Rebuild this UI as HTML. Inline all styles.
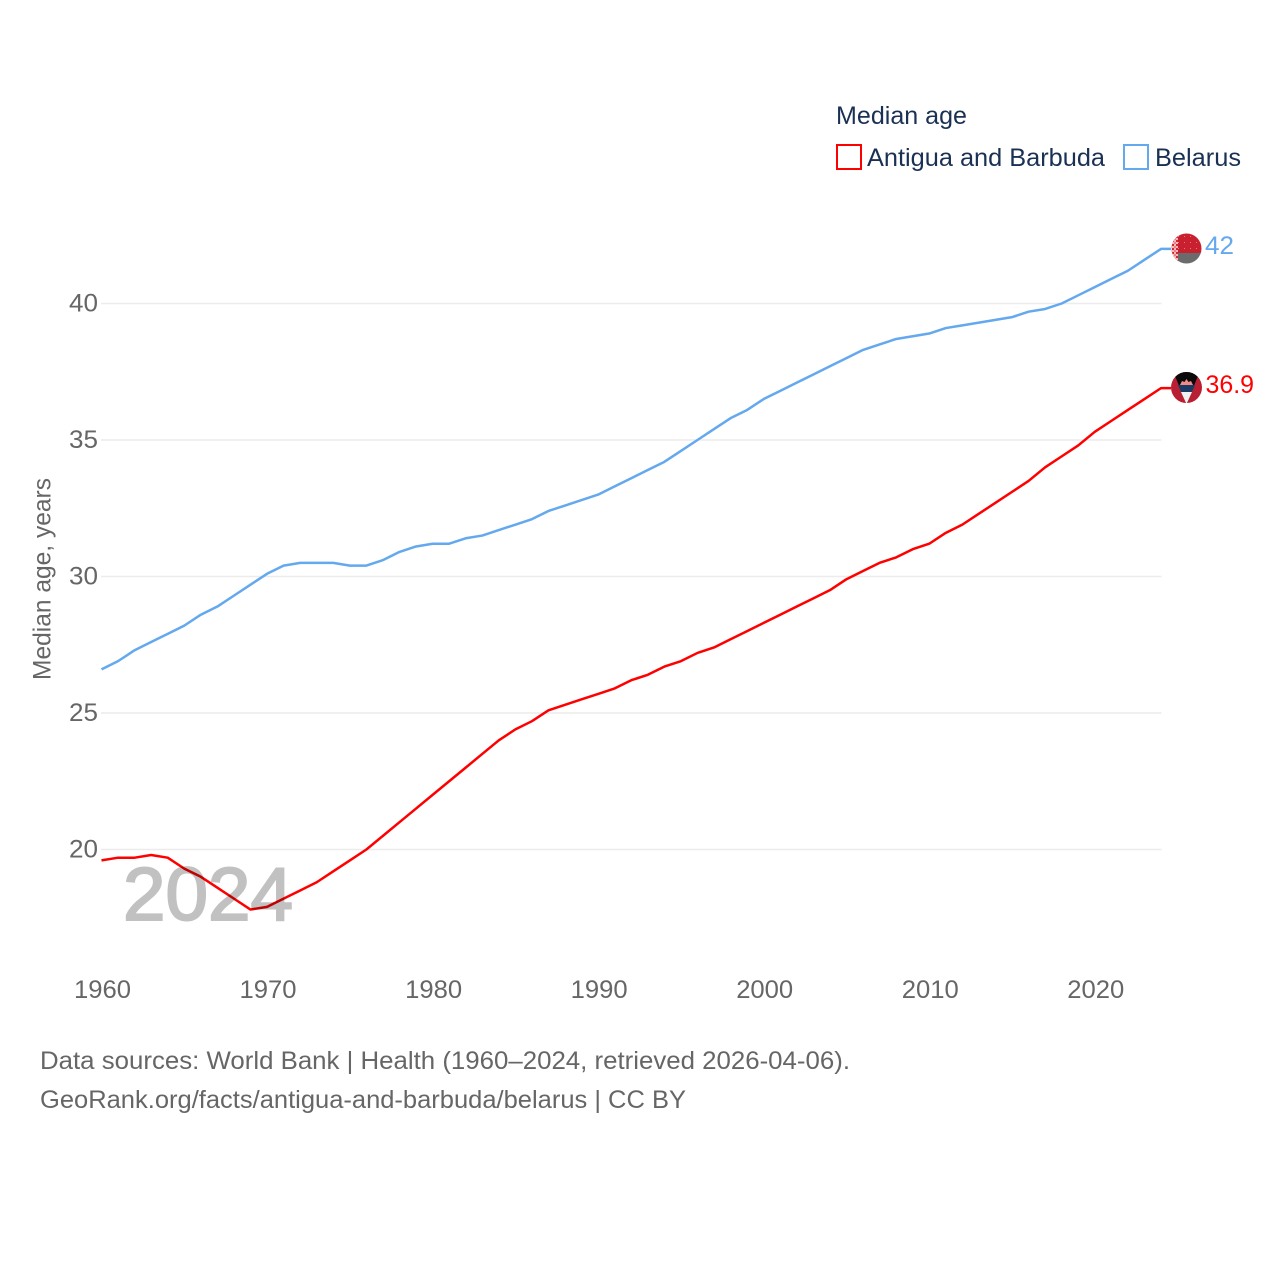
<!DOCTYPE html>
<html lang="en">
<head>
<meta charset="utf-8">
<title>Median age: Antigua and Barbuda vs Belarus</title>
<style>
html,body{margin:0;padding:0;background:#fff;width:1280px;height:1280px;overflow:hidden}
svg{display:block}
text{font-family:"Liberation Sans",sans-serif}
</style>
</head>
<body>
<svg id="chart" xmlns="http://www.w3.org/2000/svg" width="1280" height="1280" viewBox="0 0 1280 1280">
  <defs>
    <clipPath id="clip-by"><circle cx="1186.5" cy="248.5" r="15"/></clipPath>
    <clipPath id="clip-ag"><circle cx="1186.5" cy="387.5" r="15.5"/></clipPath>
    <pattern id="by-orn" width="4" height="4" patternUnits="userSpaceOnUse"><rect width="4" height="4" fill="#f6b6ba"/><rect width="2" height="2" fill="#d22730"/><rect x="2" y="2" width="2" height="2" fill="#e8808a"/></pattern>
    <pattern id="by-dots" width="6" height="6" patternUnits="userSpaceOnUse"><rect width="6" height="6" fill="#c8202f"/><rect x="2" y="2" width="1" height="1" fill="#e77"/></pattern>
  </defs>
  <g id="grid"></g>
  <g id="yticks"></g>
  <g id="xticks"></g>
  <text transform="translate(50.5,680) rotate(-90)" font-size="25" fill="#666" textLength="202" lengthAdjust="spacingAndGlyphs">Median age, years</text>
  <g id="series"></g>
  <text x="123" y="920" font-size="75" fill="#000" stroke="#000" stroke-width="2" opacity="0.24" textLength="170" lengthAdjust="spacingAndGlyphs">2024</text>

  <g>
    <text x="836" y="124" font-size="25" fill="#1a3154" textLength="131" lengthAdjust="spacingAndGlyphs">Median age</text>
    <g>
      <rect x="837" y="145" width="24" height="24" fill="#fff" stroke="#ff0000" stroke-width="2"/>
      <text x="867" y="166" font-size="25" fill="#1a3154" textLength="238" lengthAdjust="spacingAndGlyphs">Antigua and Barbuda</text>
    </g>
    <g>
      <rect x="1124" y="145" width="24" height="24" fill="#fff" stroke="#64a8ee" stroke-width="2"/>
      <text x="1155" y="166" font-size="25" fill="#1a3154" textLength="86" lengthAdjust="spacingAndGlyphs">Belarus</text>
    </g>
  </g>

  <g clip-path="url(#clip-by)">
    <rect x="1171" y="233" width="31" height="20" fill="url(#by-dots)"/>
    <rect x="1171" y="253" width="31" height="12" fill="#6b6b6b"/>
    <rect x="1171" y="233" width="7" height="32" fill="url(#by-orn)"/>
  </g>
  <g clip-path="url(#clip-ag)">
    <rect x="1171" y="372" width="31" height="32" fill="#b91f33"/>
    <polygon points="1173,371 1200,371 1186.500,404" fill="#0a0a0a"/>
    <polygon points="1178,385 1195,385 1192,392 1181,392" fill="#1b3a63"/>
    <polygon points="1181,392 1192,392 1186.500,404" fill="#f1f1f1"/>
    <polygon points="1180,385 1182,381 1184.500,382 1186.500,379 1188.500,382 1191,381 1193,385" fill="#f08a8a"/>
  </g>
  <text id="label-by" x="1205" y="254" font-size="25" fill="#64a8ee" textLength="29" lengthAdjust="spacingAndGlyphs"></text>
  <text id="label-ag" x="1205.500" y="393" font-size="25" fill="#ff0000" textLength="48.500" lengthAdjust="spacingAndGlyphs"></text>

  <g>
    <text x="40" y="1069" font-size="25" fill="#666" textLength="810" lengthAdjust="spacingAndGlyphs">Data sources: World Bank | Health (1960–2024, retrieved 2026-04-06).</text>
    <text x="40" y="1108" font-size="25" fill="#666" textLength="646" lengthAdjust="spacingAndGlyphs">GeoRank.org/facts/antigua-and-barbuda/belarus | CC BY</text>
  </g>
</svg>
<script>
const years = [1960,1961,1962,1963,1964,1965,1966,1967,1968,1969,1970,1971,1972,1973,1974,1975,1976,1977,1978,1979,1980,1981,1982,1983,1984,1985,1986,1987,1988,1989,1990,1991,1992,1993,1994,1995,1996,1997,1998,1999,2000,2001,2002,2003,2004,2005,2006,2007,2008,2009,2010,2011,2012,2013,2014,2015,2016,2017,2018,2019,2020,2021,2022,2023,2024];
const belarus = [26.6,26.9,27.3,27.6,27.9,28.2,28.6,28.9,29.3,29.7,30.1,30.4,30.5,30.5,30.5,30.4,30.4,30.6,30.9,31.1,31.2,31.2,31.4,31.5,31.7,31.9,32.1,32.4,32.6,32.8,33.0,33.3,33.6,33.9,34.2,34.6,35.0,35.4,35.8,36.1,36.5,36.8,37.1,37.4,37.7,38.0,38.3,38.5,38.7,38.8,38.9,39.1,39.2,39.3,39.4,39.5,39.7,39.8,40.0,40.3,40.6,40.9,41.2,41.6,42.0];
const antigua = [19.6,19.7,19.7,19.8,19.7,19.3,19.0,18.6,18.2,17.8,17.9,18.2,18.5,18.8,19.2,19.6,20.0,20.5,21.0,21.5,22.0,22.5,23.0,23.5,24.0,24.4,24.7,25.1,25.3,25.5,25.7,25.9,26.2,26.4,26.7,26.9,27.2,27.4,27.7,28.0,28.3,28.6,28.9,29.2,29.5,29.9,30.2,30.5,30.7,31.0,31.2,31.6,31.9,32.3,32.7,33.1,33.5,34.0,34.4,34.8,35.3,35.7,36.1,36.5,36.9];
const yTickValues = [20,25,30,35,40];
const xTickValues = [1960,1970,1980,1990,2000,2010,2020];

const NS = 'http://www.w3.org/2000/svg';
function xScale(year){ return 101.5 + (year - 1960) * (1161 - 101.5) / 64; }
function yScale(v){ return 849.5 - (v - 20) * (849.5 - 303.5) / 20; }
function make(tag, parent, attrs){
  const el = document.createElementNS(NS, tag);
  for (const k in attrs) el.setAttribute(k, attrs[k]);
  parent.appendChild(el);
  return el;
}
const gridG = document.getElementById('grid');
const yG = document.getElementById('yticks');
const xG = document.getElementById('xticks');
const seriesG = document.getElementById('series');

yTickValues.forEach(function(v){
  const line = make('line', gridG, {x1:101, x2:1161.5, y1:yScale(v), y2:yScale(v), stroke:'#ececec', 'stroke-width':1.5});
  
  
  const t = make('text', yG, {x:98, y:yScale(v)+8, 'text-anchor':'end', 'font-size':25, fill:'#666', textLength:29, lengthAdjust:'spacingAndGlyphs'});
  
  
  t.textContent = v;
});
xTickValues.forEach(function(v){
  const t = make('text', xG, {x:xScale(v)+1, y:998, 'text-anchor':'middle', 'font-size':25, fill:'#666', textLength:57, lengthAdjust:'spacingAndGlyphs'});
  
  
  t.textContent = v;
});
function drawSeries(values, color, name){
  let d = values.map(function(v,i){ return (i ? 'L' : 'M') + xScale(years[i]).toFixed(2) + ' ' + yScale(v).toFixed(2); }).join(' ');
  d += ' h 10';
  const p = make('path', seriesG, {d:d, fill:'none', stroke:color, 'stroke-width':2.5, 'stroke-linejoin':'round'});
  
  
}
drawSeries(antigua, '#ff0000', 'line-antigua-and-barbuda');
drawSeries(belarus, '#64a8ee', 'line-belarus');
document.getElementById('label-by').textContent = belarus[belarus.length-1];
document.getElementById('label-ag').textContent = antigua[antigua.length-1];
</script>
</body>
</html>
